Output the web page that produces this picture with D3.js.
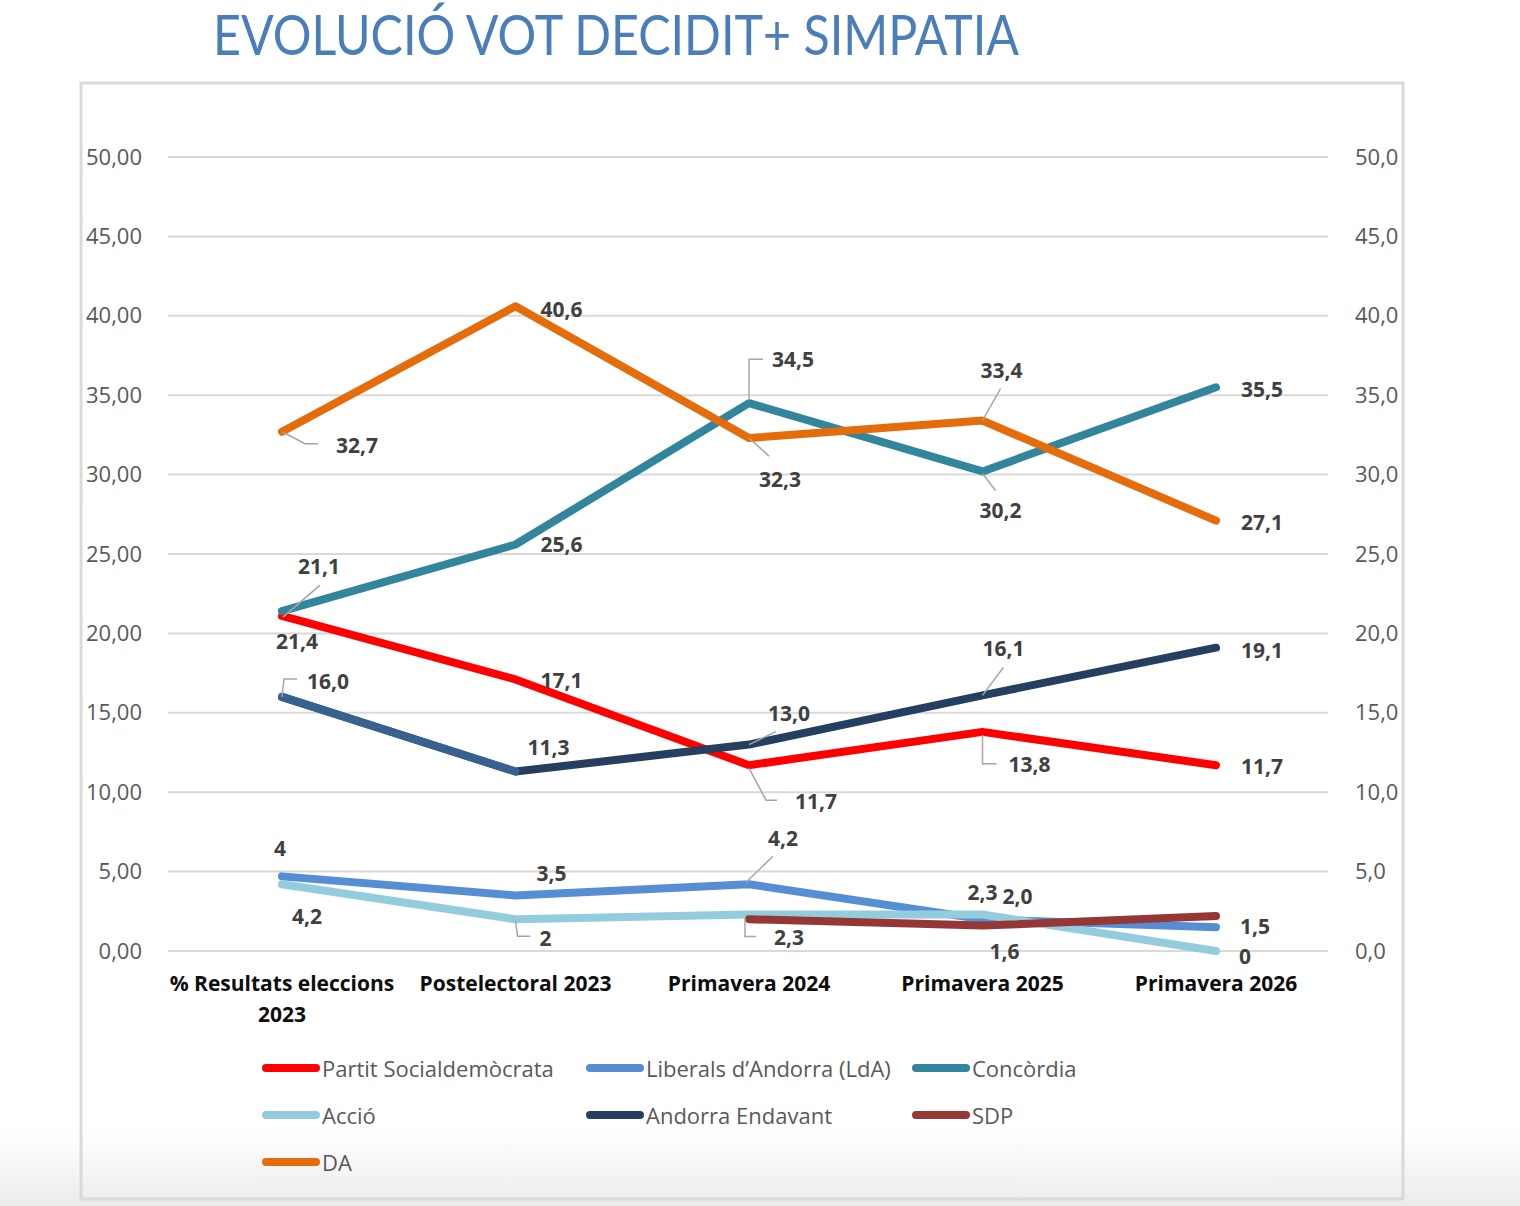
<!DOCTYPE html>
<html>
<head>
<meta charset="utf-8">
<script src="https://cdn.jsdelivr.net/npm/d3@7/dist/d3.min.js"></script>
<style>
  body { margin: 0; background: #fff; }
  svg { display: block; }
</style>
</head>
<body>
<svg id="chart" width="1520" height="1206"></svg>
<script>
// categories and series values
var categories = ["% Resultats eleccions 2023", "Postelectoral 2023", "Primavera 2024", "Primavera 2025", "Primavera 2026"];
var categoryLines = [["% Resultats eleccions", "2023"], ["Postelectoral 2023"], ["Primavera 2024"], ["Primavera 2025"], ["Primavera 2026"]];

var seriesNames = ["Partit Socialdemòcrata", "Liberals d\u2019Andorra (LdA)", "Concòrdia", "Acció", "Andorra Endavant", "SDP", "DA"];
var seriesColors = ["#ff0000", "#558ed5", "#31859c", "#93cddd", "#243f60", "#953735", "#e46c0a"];

var valuesPS = [21.1, 17.1, 11.7, 13.8, 11.7];
var valuesLdA = [4.7, 3.5, 4.2, 2.0, 1.5];
var valuesConcordia = [21.4, 25.6, 34.5, 30.2, 35.5];
var valuesAccio = [4.2, 2.0, 2.3, 2.3, 0];
var valuesEndavant = [16.0, 11.3, 13.0, 16.1, 19.1];
var valuesSDP = [null, null, 2.0, 1.6, 2.2];
var valuesDA = [32.7, 40.6, 32.3, 33.4, 27.1];

// data label texts as printed on the chart
var labelsPS = ["21,4", "17,1", "11,7", "13,8", "11,7"];
var labelsLdA = ["4", "3,5", "4,2", "2,0", "1,5"];
var labelsConcordia = ["21,1", "25,6", "34,5", "30,2", "35,5"];
var labelsAccio = ["4,2", "2", "2,3", "2,3", "0"];
var labelsEndavant = ["16,0", "11,3", "13,0", "16,1", "19,1"];
var labelsSDP = [null, null, null, "1,6", null];
var labelsDA = ["32,7", "40,6", "32,3", "33,4", "27,1"];

var leftTicks = [0, 5, 10, 15, 20, 25, 30, 35, 40, 45, 50];

var allValues = [valuesPS, valuesLdA, valuesConcordia, valuesAccio, valuesEndavant, valuesSDP, valuesDA];
var allLabels = [labelsPS, labelsLdA, labelsConcordia, labelsAccio, labelsEndavant, labelsSDP, labelsDA];

// label placement (offset from point to text centre, optional leader line)
var labelPlacement = [
  [{dx: 15, dy: 25}, {dx: 46, dy: 1}, {dx: 67, dy: 36, leader: [[0, 3], [17, 35], [28, 35]]},
   {dx: 47, dy: 32, leader: [[0, 3], [0, 32], [14, 32]]}, {dx: 46, dy: 1}],
  [{dx: -2, dy: -28}, {dx: 36, dy: -22}, {dx: 34, dy: -46, leader: [[-3, -2], [24, -28]]},
   {dx: 35, dy: -23}, {dx: 39, dy: -1}],
  [{dx: 37, dy: -45, leader: [[1, 6], [38, -26]]}, {dx: 46, dy: 0},
   {dx: 44, dy: -44, leader: [[0, -3], [0, -44], [14, -44]]},
   {dx: 18, dy: 39, leader: [[0, 2], [13, 19]]}, {dx: 46, dy: 2}],
  [{dx: 25, dy: 32}, {dx: 30, dy: 19, leader: [[0, 1], [2, 17], [15, 17]]},
   {dx: 40, dy: 23, leader: [[-4, 3], [-4, 22], [7, 22]]}, {dx: 0, dy: -22}, {dx: 29, dy: 5}],
  [{dx: 46, dy: -16, leader: [[0, 0], [2, -18], [15, -18]]}, {dx: 33, dy: -25},
   {dx: 40, dy: -32, leader: [[0, 0], [27, -13]]}, {dx: 21, dy: -47, leader: [[0, 0], [21, -28]]},
   {dx: 46, dy: 2}],
  [null, null, null, {dx: 22, dy: 25}, null],
  [{dx: 75, dy: 13, leader: [[0, 0], [23, 12], [36, 12]]}, {dx: 46, dy: 3},
   {dx: 31, dy: 41, leader: [[0, 0], [20, 18]]}, {dx: 19, dy: -51, leader: [[0, 0], [18, -32]]},
   {dx: 46, dy: 1}]
];

var font = "'Open Sans', sans-serif";
var svg = d3.select("#chart");

// faint grey wash at the bottom of the slide
var defs = svg.append("defs");
var grad = defs.append("linearGradient").attr("id", "wash").attr("x1", 0).attr("y1", 0).attr("x2", 0).attr("y2", 1);
grad.append("stop").attr("offset", "0").attr("stop-color", "#ffffff");
grad.append("stop").attr("offset", "1").attr("stop-color", "#ebebeb");
svg.append("rect").attr("x", 0).attr("y", 1130).attr("width", 1520).attr("height", 76).attr("fill", "url(#wash)");

// chart frame
svg.append("rect").attr("x", 81).attr("y", 83).attr("width", 1322).attr("height", 1116)
  .attr("fill", "none").attr("stroke", "#d9d9d9").attr("stroke-width", 3);

// title
svg.append("text").attr("x", 213).attr("y", 55)
  .attr("textLength", 806).attr("lengthAdjust", "spacingAndGlyphs")
  .style("font-family", "Lato, 'Open Sans', sans-serif").style("font-size", "56px").attr("fill", "#4a7ebb")
  .text("EVOLUCIÓ VOT DECIDIT+ SIMPATIA");

var xScale = d3.scalePoint().domain(categories).range([282, 1216]);
var yScale = d3.scaleLinear().domain([0, 50]).range([951, 157]);

// gridlines
svg.append("g").selectAll("line").data(leftTicks).enter().append("line")
  .attr("x1", 168).attr("x2", 1328)
  .attr("y1", function (d) { return yScale(d); })
  .attr("y2", function (d) { return yScale(d); })
  .attr("stroke", "#d9d9d9").attr("stroke-width", 2);

// left axis
var leftAxis = svg.append("g").attr("transform", "translate(142,0)")
  .call(d3.axisLeft(yScale).tickValues(leftTicks).tickSize(0).tickPadding(0)
    .tickFormat(function (d) { return d3.format(".2f")(d).replace(".", ","); }));
leftAxis.select(".domain").remove();
leftAxis.selectAll("text").style("font-family", font).style("font-size", "22px").attr("fill", "#595959");

// right axis
var rightAxis = svg.append("g").attr("transform", "translate(1355,0)")
  .call(d3.axisRight(yScale).tickValues(leftTicks).tickSize(0).tickPadding(0)
    .tickFormat(function (d) { return d3.format(".1f")(d).replace(".", ","); }));
rightAxis.select(".domain").remove();
rightAxis.selectAll("text").style("font-family", font).style("font-size", "22px").attr("fill", "#595959");

// category labels
var catGroup = svg.append("g");
categories.forEach(function (c, i) {
  var t = catGroup.append("text").attr("x", xScale(c)).attr("y", 991)
    .attr("text-anchor", "middle").style("font-family", font).style("font-size", "21px")
    .style("font-weight", "bold").attr("fill", "#0d0d0d");
  categoryLines[i].forEach(function (line, j) {
    t.append("tspan").attr("x", xScale(c)).attr("dy", j === 0 ? 0 : 31).text(line);
  });
});

// lines
var lineGen = d3.line()
  .defined(function (d) { return d != null; })
  .x(function (d, i) { return xScale(categories[i]); })
  .y(function (d) { return yScale(d); });

allValues.forEach(function (vals, s) {
  svg.append("path").datum(vals)
    .attr("d", lineGen)
    .attr("fill", "none").attr("stroke", seriesColors[s]).attr("stroke-width", 8)
    .attr("stroke-linecap", "round").attr("stroke-linejoin", "round");
  if (seriesNames[s] === "Andorra Endavant") {
    // first segment drawn in a lighter blue in the source
    svg.append("path").datum(vals.slice(0, 2))
      .attr("d", lineGen)
      .attr("fill", "none").attr("stroke", "#37618f").attr("stroke-width", 8)
      .attr("stroke-linecap", "round").attr("stroke-linejoin", "round");
  }
});

// data labels with leader lines
var labelGroup = svg.append("g");
allValues.forEach(function (vals, s) {
  vals.forEach(function (v, i) {
    var txt = allLabels[s][i];
    var place = labelPlacement[s][i];
    if (v == null || txt == null || place == null) return;
    var px = xScale(categories[i]), py = yScale(v);
    if (place.leader) {
      labelGroup.append("polyline")
        .attr("points", place.leader.map(function (p) { return (px + p[0]) + "," + (py + p[1]); }).join(" "))
        .attr("fill", "none").attr("stroke", "#a6a6a6").attr("stroke-width", 1.5);
    }
    labelGroup.append("text").attr("x", px + place.dx).attr("y", py + place.dy)
      .attr("text-anchor", "middle").attr("dominant-baseline", "central")
      .style("font-family", font).style("font-size", "21px").style("font-weight", "bold")
      .attr("fill", "#404040").text(txt);
  });
});

// legend
var legendCols = [262, 586, 912];
var legendRows = [1068, 1115, 1162];
var legend = svg.append("g");
seriesNames.forEach(function (name, s) {
  var lx = legendCols[s % 3], ly = legendRows[Math.floor(s / 3)];
  legend.append("line").attr("x1", lx + 4).attr("x2", lx + 54).attr("y1", ly).attr("y2", ly)
    .attr("stroke", seriesColors[s]).attr("stroke-width", 8).attr("stroke-linecap", "round");
  legend.append("text").attr("x", lx + 60).attr("y", ly).attr("dominant-baseline", "central")
    .style("font-family", font).style("font-size", "22px").attr("fill", "#595959").text(name);
});
</script>
</body>
</html>
